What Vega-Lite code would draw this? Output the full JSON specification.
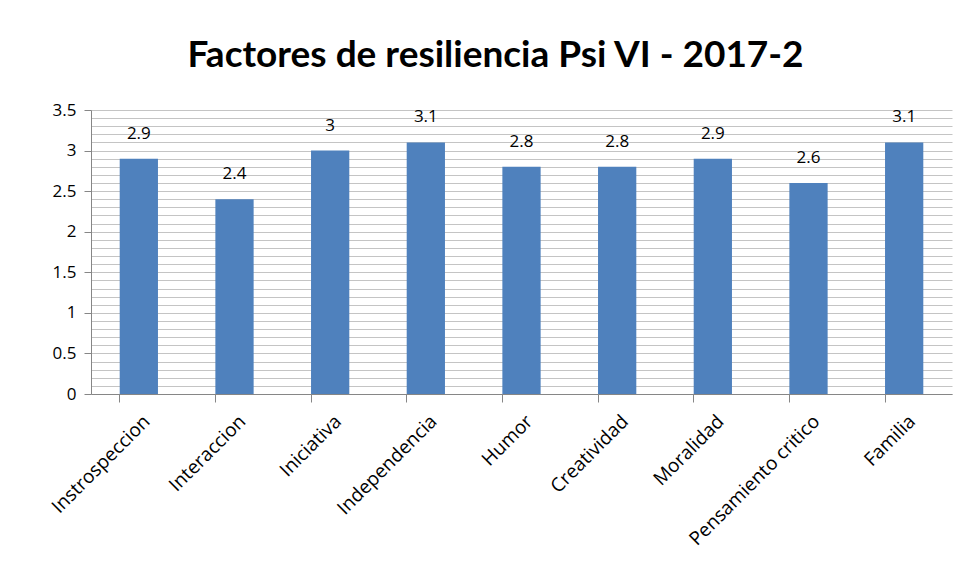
{
  "$schema": "https://vega.github.io/schema/vega-lite/v6.json",
  "autosize": {"type": "none"},
  "padding": {"left": 91, "top": 110, "right": 9, "bottom": 175},
  "width": 861,
  "height": 284,
  "background": "white",
  "title": {
    "text": "Factores de resiliencia Psi VI - 2017-2",
    "font": "Lato",
    "fontSize": 37,
    "fontWeight": "bold",
    "color": "#000000",
    "anchor": "middle",
    "frame": "group",
    "dx": -26,
    "offset": 26
  },
  "data": {
    "values": [
      {"factor": "Instrospeccion", "valor": 2.9},
      {"factor": "Interaccion", "valor": 2.4},
      {"factor": "Iniciativa", "valor": 3},
      {"factor": "Independencia", "valor": 3.1},
      {"factor": "Humor", "valor": 2.8},
      {"factor": "Creatividad", "valor": 2.8},
      {"factor": "Moralidad", "valor": 2.9},
      {"factor": "Pensamiento critico", "valor": 2.6},
      {"factor": "Familia", "valor": 3.1}
    ]
  },
  "encoding": {
    "x": {
      "field": "factor",
      "type": "nominal",
      "sort": null,
      "scale": {"paddingInner": 0.6, "paddingOuter": 0.3},
      "axis": {
        "title": null,
        "labelAngle": -45,
        "labelAlign": "right",
        "labelBaseline": "middle",
        "labelFont": "Open Sans",
        "labelFontSize": 19,
        "labelColor": "#000000",
        "labelPadding": 16,
        "labelOffset": 8,
        "bandPosition": 0,
        "tickSize": 8,
        "tickColor": "#868686",
        "domainColor": "#868686",
        "grid": false
      }
    },
    "y": {
      "field": "valor",
      "type": "quantitative",
      "scale": {"domain": [0, 3.5], "nice": false},
      "axis": {
        "title": null,
        "values": [0, 0.1, 0.2, 0.3, 0.4, 0.5, 0.6, 0.7, 0.8, 0.9, 1, 1.1, 1.2, 1.3, 1.4, 1.5, 1.6, 1.7, 1.8, 1.9, 2, 2.1, 2.2, 2.3, 2.4, 2.5, 2.6, 2.7, 2.8, 2.9, 3, 3.1, 3.2, 3.3, 3.4, 3.5],
        "labelExpr": "abs(datum.value*2 - round(datum.value*2)) < 0.001 ? format(datum.value, '~g') : ''",
        "labelFont": "Open Sans",
        "labelFontSize": 17,
        "labelColor": "#000000",
        "labelPadding": 8,
        "tickSize": {"condition": {"test": "abs(datum.value*2 - round(datum.value*2)) < 0.001", "value": 7}, "value": 0},
        "tickColor": "#868686",
        "domainColor": "#868686",
        "grid": true,
        "gridColor": "#c4c4c4",
        "gridWidth": 1
      }
    }
  },
  "layer": [
    {"mark": {"type": "bar", "color": "#4F81BD"}},
    {
      "mark": {"type": "text", "dy": -20, "baseline": "alphabetic", "font": "Open Sans", "fontSize": 17, "color": "#000000"},
      "encoding": {"text": {"field": "valor", "type": "quantitative"}}
    }
  ],
  "config": {"view": {"stroke": null}}
}
